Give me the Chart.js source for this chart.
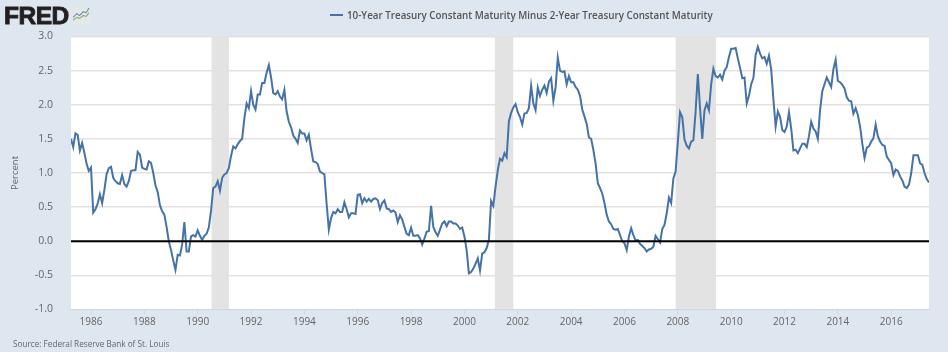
<!DOCTYPE html>
<html>
<head>
<meta charset="utf-8">
<script src="https://cdn.jsdelivr.net/npm/chart.js@4"></script>
<style>
    html, body { margin: 0; padding: 0; background: #dee6f0; }
    #wrap { position: relative; width: 948px; height: 352px; overflow: hidden; filter: blur(0.35px); }
    #chart { position: absolute; left: 0; top: 0; }
    #logo { position: absolute; left: 4px; top: 2px; font: 900 24.5px "Liberation Sans", sans-serif; color: #231f20; letter-spacing: -0.5px; -webkit-text-stroke: 0.9px #231f20; }
    #icon { position: absolute; left: 72px; top: 7px; }
    #legend { position: absolute; left: 330px; top: 9px; font: 600 9.8px "Open Sans", sans-serif; color: #555; white-space: nowrap; }
    #legend i { display: inline-block; width: 13px; height: 2px; background: #4572a7; vertical-align: 3px; margin-right: 4px; }
    #source { position: absolute; left: 13px; top: 338px; font: 8.2px "Open Sans", sans-serif; color: #666; white-space: nowrap; }
</style>
</head>
<body>
<div id="wrap">
    <canvas id="chart" width="948" height="352"></canvas>
    <div id="logo">FRED</div>
    <svg id="icon" width="18" height="17" viewBox="0 0 19 18">
        <rect width="19" height="18" fill="#e6e8e6"/>
        <polyline points="1,14 5,11 8,12 12,9 15,10 18,6" fill="none" stroke="#8cae7c" stroke-width="1.2"/>
        <polyline points="1,11 5,7 8,9 12,5 15,6 18,1" fill="none" stroke="#6d8fb8" stroke-width="1.2"/>
    </svg>
    <div id="legend"><i></i>10-Year Treasury Constant Maturity Minus 2-Year Treasury Constant Maturity</div>
    <div id="source">Source: Federal Reserve Bank of St. Louis</div>
</div>
<script>
    const seriesName = '10-Year Treasury Constant Maturity Minus 2-Year Treasury Constant Maturity'
    const startYear = 1985.25 // April 1985, monthly from here

    const spread = [
        1.50, 1.38, 1.58, 1.56, 1.33, 1.44, 1.30, 1.14, 1.03,
        1.08, 0.42, 0.47, 0.55, 0.69, 0.56, 0.75, 0.98, 1.07, 1.09, 0.93, 0.88,
        0.85, 0.84, 0.97, 0.84, 0.80, 0.88, 1.03, 1.04, 1.04, 1.31, 1.27, 1.08,
        1.06, 1.05, 1.17, 1.15, 1.00, 0.82, 0.72, 0.53, 0.44, 0.39, 0.21, 0.00,
        -0.13, -0.28, -0.42, -0.20, -0.21, -0.05, 0.28, -0.15, -0.15, 0.07, 0.09, 0.07,
        0.16, 0.08, 0.02, 0.08, 0.11, 0.20, 0.45, 0.78, 0.80, 0.88, 0.74, 0.93,
        0.98, 1.00, 1.07, 1.25, 1.39, 1.36, 1.42, 1.47, 1.50, 1.80, 2.02, 1.95,
        2.20, 2.00, 1.93, 2.15, 2.15, 2.32, 2.32, 2.47, 2.58, 2.40, 2.17, 2.15,
        2.20, 2.12, 2.08, 2.22, 1.90, 1.75, 1.67, 1.55, 1.50, 1.44, 1.62, 1.58,
        1.58, 1.48, 1.56, 1.35, 1.17, 1.16, 1.13, 1.02, 1.00, 0.98, 0.55, 0.17,
        0.34, 0.43, 0.41, 0.47, 0.43, 0.43, 0.57, 0.47, 0.35, 0.41, 0.41, 0.40,
        0.68, 0.69, 0.56, 0.63, 0.58, 0.62, 0.58, 0.62, 0.63, 0.60, 0.47, 0.56,
        0.60, 0.48, 0.47, 0.43, 0.45, 0.42, 0.28, 0.38, 0.32, 0.21, 0.11, 0.09,
        0.20, 0.08, 0.08, 0.09, 0.04, -0.05, 0.04, 0.14, 0.15, 0.52, 0.21, 0.13,
        0.08, 0.17, 0.26, 0.29, 0.22, 0.29, 0.29, 0.26, 0.26, 0.23, 0.18, 0.20,
        0.07, -0.13, -0.47, -0.45, -0.40, -0.33, -0.25, -0.43, -0.18, -0.16, -0.10, 0.02,
        0.59, 0.52, 0.80, 1.04, 1.21, 1.18, 1.29, 1.23, 1.76, 1.88, 1.96, 2.01,
        1.89, 1.82, 1.71, 1.87, 1.88, 1.95, 2.28, 2.02, 1.92, 2.25, 2.13, 2.22,
        2.28, 2.17, 2.34, 2.39, 2.06, 2.25, 2.69, 2.50, 2.48, 2.49, 2.30, 2.42,
        2.33, 2.33, 2.26, 2.22, 2.13, 1.93, 1.83, 1.72, 1.52, 1.50, 1.34, 1.14,
        0.85, 0.78, 0.70, 0.56, 0.39, 0.29, 0.25, 0.18, 0.17, 0.18, 0.09, 0.00,
        -0.03, -0.13, 0.07, 0.19, 0.09, 0.01, 0.02, -0.04, -0.07, -0.10, -0.15, -0.12,
        -0.11, -0.08, 0.08, 0.03, -0.02, 0.18, 0.24, 0.41, 0.64, 0.56, 0.92, 1.02,
        1.45, 1.89, 1.82, 1.49, 1.40, 1.36, 1.46, 1.48, 1.90, 2.45, 1.95, 1.50,
        1.92, 2.02, 1.92, 2.30, 2.53, 2.42, 2.40, 2.44, 2.37, 2.50, 2.55, 2.70,
        2.82, 2.82, 2.83, 2.68, 2.54, 2.39, 2.40, 2.02, 2.13, 2.30, 2.39, 2.73,
        2.85, 2.75, 2.68, 2.70, 2.60, 2.72, 2.52, 2.08, 1.68, 1.90, 1.82, 1.63,
        1.60, 1.68, 1.89, 1.65, 1.33, 1.34, 1.29, 1.36, 1.43, 1.43, 1.38, 1.54,
        1.75, 1.65, 1.61, 1.50, 1.92, 2.20, 2.30, 2.40, 2.33, 2.26, 2.52, 2.66,
        2.35, 2.33, 2.29, 2.24, 2.11, 2.06, 2.05, 1.87, 1.95, 1.85, 1.68, 1.43,
        1.22, 1.37, 1.39, 1.46, 1.51, 1.71, 1.54, 1.46, 1.41, 1.40, 1.24, 1.19,
        1.14, 0.97, 1.05, 1.03, 0.95, 0.89, 0.80, 0.78, 0.83, 1.00, 1.26, 1.26,
        1.26, 1.14, 1.12, 1.00, 0.91, 0.86
    ]
    const recessions = [[1990.52, 1991.17], [2001.14, 2001.83], [2007.92, 2009.43]]
    const yearTicks = [1986, 1988, 1990, 1992, 1994, 1996, 1998, 2000, 2002, 2004, 2006, 2008, 2010, 2012, 2014, 2016]

    const xMax = startYear + (spread.length - 1) / 12
    const points = spread.map((v, i) => ({x: startYear + i / 12, y: v}))

    // white plot background and the grey recession bands, under grid and line
    const bands = {
        id: 'bands',
        beforeDraw(chart) {
            const {ctx, chartArea: a, scales: {x}} = chart
            ctx.save()
            ctx.fillStyle = '#fff'
            ctx.fillRect(a.left, a.top, a.width, a.height)
            ctx.fillStyle = '#e3e3e3'
            recessions.forEach(r => {
                ctx.fillRect(x.getPixelForValue(r[0]), a.top, x.getPixelForValue(r[1]) - x.getPixelForValue(r[0]), a.height)
            })
            ctx.restore()
        }
    }

    new Chart(document.getElementById('chart'), {
        type: 'line',
        plugins: [bands],
        data: {
            datasets: [
                {
                    label: 'zero',
                    data: [{x: startYear, y: 0}, {x: xMax, y: 0}],
                    borderColor: '#000',
                    borderWidth: 2,
                    pointRadius: 0,
                    order: 0
                },
                {
                    label: seriesName,
                    data: points,
                    borderColor: '#4572a7',
                    borderWidth: 2,
                    pointRadius: 0,
                    tension: 0,
                    order: 1
                }
            ]
        },
        options: {
            responsive: false,
            animation: false,
            layout: {padding: {top: 36.5, right: 19, left: 0, bottom: 0}},
            plugins: {legend: {display: false}, tooltip: {enabled: false}},
            scales: {
                x: {
                    type: 'linear',
                    min: startYear,
                    max: xMax,
                    afterBuildTicks: s => { s.ticks = yearTicks.map(v => ({value: v})) },
                    afterFit: s => { s.height = 42.5 },
                    grid: {drawOnChartArea: false, tickLength: 5, color: '#ccd6eb'},
                    border: {color: '#ccd6eb'},
                    ticks: {
                        maxRotation: 0,
                        autoSkip: false,
                        padding: 2,
                        color: '#666',
                        font: {family: 'Open Sans', size: 10},
                        callback: v => String(v)
                    }
                },
                y: {
                    min: -1,
                    max: 3,
                    afterFit: s => { s.width = 71 },
                    grid: {color: '#e6e0e0', lineWidth: 1.5, drawTicks: false},
                    border: {display: false},
                    ticks: {
                        stepSize: 0.5,
                        padding: 18,
                        color: '#666',
                        font: {family: 'Open Sans', size: 10.5},
                        callback: v => v.toFixed(1)
                    },
                    title: {
                        display: true,
                        text: 'Percent',
                        color: '#666',
                        padding: {top: 10, bottom: 0},
                        font: {family: 'Open Sans', size: 9.5}
                    }
                }
            }
        }
    })
</script>
</body>
</html>
